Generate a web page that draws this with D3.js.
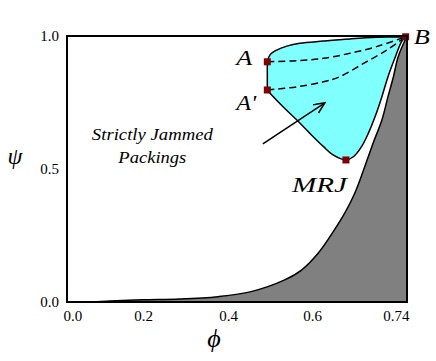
<!DOCTYPE html>
<html>
<head>
<meta charset="utf-8">
<script src="https://cdnjs.cloudflare.com/ajax/libs/d3/7.8.5/d3.min.js"></script>
<style>
body {margin:0; background:white;}
</style>
</head>
<body>
<svg></svg>
<script>

var screen = {width:436,height:361}
var margins = {top:36,right:29,left:67,bottom:59}
var serif = "'Liberation Serif', 'Times New Roman', serif"

var xTicks = [0, 0.2, 0.4, 0.6, 0.74]
var xTickLabels = ["0.0","0.2","0.4","0.6","0.74"]
var yTicks = [0, 0.5, 1]
var yTickLabels = ["0.0","0.5","1.0"]

// lower (gray) boundary, phi / psi
var mrjCurve = [
    [0.061,0],[0.113,0.004],[0.2,0.008],[0.287,0.011],[0.376,0.02],[0.455,0.039],
    [0.535,0.083],[0.575,0.12],[0.609,0.183],[0.633,0.271],[0.648,0.333],[0.663,0.409],
    [0.676,0.496],[0.69,0.597],[0.703,0.684],[0.712,0.772],[0.72,0.847],[0.727,0.922],
    [0.74,1.0]
]

// strictly jammed region: top edge A -> B, then B -> MRJ -> A'
var jammedTop = [
    [0.4936,0.903],[0.5,0.929],[0.516,0.947],[0.54,0.962],[0.571,0.973],
    [0.617,0.981],[0.656,0.989],[0.695,0.995],[0.738,0.997]
]
var jammedBottom = [
    [0.738,0.997],[0.732,0.979],[0.722,0.916],[0.712,0.847],[0.703,0.772],
    [0.693,0.697],[0.683,0.634],[0.673,0.584],[0.661,0.546],[0.65,0.534],
    [0.631,0.553],[0.617,0.584],[0.595,0.634],[0.564,0.684],[0.531,0.734],
    [0.504,0.778],[0.4936,0.797]
]

var dashA = [[0.4936,0.903],[0.564,0.907],[0.617,0.916],[0.656,0.935],[0.695,0.96],[0.738,0.997]]
var dashAprime = [[0.4936,0.797],[0.564,0.809],[0.617,0.828],[0.641,0.847],[0.676,0.897],[0.71,0.947],[0.738,0.997]]

var pointNames = ["A","A'","B","MRJ"]
var pointPhi = [0.4936, 0.4936, 0.738, 0.65]
var pointPsi = [0.903, 0.797, 0.997, 0.534]

var noteLines = ["Strictly Jammed","Packings"]
var arrowFrom = [0.483, 0.594]
var arrowTo = [0.619, 0.749]


var setup = function()
{
    var width = screen.width - margins.left - margins.right;
    var height = screen.height - margins.top - margins.bottom;

    var svg = d3.select("svg")
      .attr("width",screen.width)
      .attr("height",screen.height)

    svg.append("defs").append("marker")
      .attr("id","head")
      .attr("markerUnits","userSpaceOnUse")
      .attr("markerWidth",14)
      .attr("markerHeight",14)
      .attr("refX",11)
      .attr("refY",5)
      .attr("orient","auto")
      .append("path")
      .attr("d","M0,0 L11,5 L0,10")
      .attr("fill","none")
      .attr("stroke","black")
      .attr("stroke-width",1.5)

    var graph = svg.append("g")
      .attr("id","graph")
      .attr("transform","translate("+margins.left+","+margins.top+")");

    // the labels on the original are not evenly spaced, so the scale follows them
    var xScale = d3.scaleLinear()
                   .domain(xTicks)
                   .range([0,76,161,245,width])
    var yScale = d3.scaleLinear()
                   .domain([0,1])
                   .range([height,0])

    drawRegions(graph, xScale, yScale, height)
    drawPoints(graph, xScale, yScale)

    graph.append("rect")
      .attr("width",width)
      .attr("height",height)
      .attr("fill","none")
      .attr("stroke","black")
      .attr("stroke-width",2)

    var xAxis = d3.axisBottom(xScale)
                  .tickValues(xTicks)
                  .tickSize(0)
                  .tickPadding(8)
                  .tickFormat(function(d,i){return xTickLabels[i]})
    var yAxis = d3.axisLeft(yScale)
                  .tickValues(yTicks)
                  .tickSize(0)
                  .tickPadding(8)
                  .tickFormat(function(d,i){return yTickLabels[i]})

    var xg = graph.append("g")
      .attr("id","xAxis")
      .attr("transform","translate(0,"+height+")")
      .call(xAxis)
    var yg = graph.append("g")
      .attr("id","yAxis")
      .call(yAxis)

    svg.selectAll(".domain").remove()
    svg.selectAll(".tick text")
      .style("font-family",serif)
      .style("font-size","15px")
      .attr("fill","black")

    xg.selectAll(".tick text")
      .attr("text-anchor",function(d,i){
          if (i == 0) {return "start"}
          if (i == xTicks.length-1) {return "end"}
          return "middle"
      })
      .attr("dx",function(d,i){
          if (i == 0) {return -4}
          if (i == xTicks.length-1) {return 2}
          return 0
      })

    svg.append("text")
      .attr("x",15)
      .attr("y",164)
      .attr("text-anchor","middle")
      .style("font-family",serif)
      .style("font-style","italic")
      .style("font-size","24px")
      .text("\u03c8")

    svg.append("text")
      .attr("x",214)
      .attr("y",347)
      .attr("text-anchor","middle")
      .style("font-family",serif)
      .style("font-style","italic")
      .style("font-size","26px")
      .text("\u03d5")
}


var drawRegions = function(graph, xScale, yScale, height)
{
    var area = d3.area()
        .x(function(d){return xScale(d[0])})
        .y0(height)
        .y1(function(d){return yScale(d[1])})
        .curve(d3.curveCatmullRom.alpha(0.5))

    var line = d3.line()
        .x(function(d){return xScale(d[0])})
        .y(function(d){return yScale(d[1])})
        .curve(d3.curveCatmullRom.alpha(0.5))

    graph.append("path")
      .attr("d",area(mrjCurve))
      .attr("fill","#808080")

    graph.append("path")
      .attr("d",line(mrjCurve))
      .attr("fill","none")
      .attr("stroke","black")
      .attr("stroke-width",1.5)

    var outline = line(jammedTop) + line(jammedBottom).replace(/^M/,"L") + "Z"

    graph.append("path")
      .attr("d",outline)
      .attr("fill","#80ffff")
      .attr("stroke","black")
      .attr("stroke-width",1.5)
      .attr("stroke-linejoin","round")

    graph.selectAll(".dash")
      .data([dashA, dashAprime])
      .enter()
      .append("path")
      .classed("dash",true)
      .attr("d",function(d){return line(d)})
      .attr("fill","none")
      .attr("stroke","black")
      .attr("stroke-width",1.5)
      .attr("stroke-dasharray","7,4")

    graph.append("line")
      .attr("x1",xScale(arrowFrom[0]))
      .attr("y1",yScale(arrowFrom[1]))
      .attr("x2",xScale(arrowTo[0]))
      .attr("y2",yScale(arrowTo[1]))
      .attr("stroke","black")
      .attr("stroke-width",1.5)
      .attr("marker-end","url(#head)")

    var note = graph.append("text")
      .style("font-family",serif)
      .style("font-style","italic")
      .style("font-size","16px")
      .attr("text-anchor","middle")
    note.selectAll("tspan")
      .data(noteLines)
      .enter()
      .append("tspan")
      .attr("x",xScale(0.222))
      .attr("y",function(d,i){return yScale(0.609) + i*23})
      .attr("textLength",function(d,i){return i == 0 ? 121 : 68})
      .attr("lengthAdjust","spacingAndGlyphs")
      .text(function(d){return d})
}


var drawPoints = function(graph, xScale, yScale)
{
    var look = {
        "A":   {dx:-31, dy:3,  size:20, len:16},
        "A'":  {dx:-31, dy:20, size:20, len:20},
        "B":   {dx:8,   dy:7,  size:21, len:16},
        "MRJ": {dx:-54, dy:32, size:22, len:55}
    }

    graph.selectAll(".pt")
      .data(pointNames)
      .enter()
      .append("rect")
      .classed("pt",true)
      .attr("x",function(d,i){return xScale(pointPhi[i]) - 3.5})
      .attr("y",function(d,i){return yScale(pointPsi[i]) - 3.5})
      .attr("width",7)
      .attr("height",7)
      .attr("fill","#800000")

    graph.selectAll(".ptlabel")
      .data(pointNames)
      .enter()
      .append("text")
      .classed("ptlabel",true)
      .attr("x",function(d,i){return xScale(pointPhi[i]) + look[d].dx})
      .attr("y",function(d,i){return yScale(pointPsi[i]) + look[d].dy})
      .style("font-family",serif)
      .style("font-style","italic")
      .style("font-size",function(d){return look[d].size + "px"})
      .attr("textLength",function(d){return look[d].len})
      .attr("lengthAdjust","spacingAndGlyphs")
      .text(function(d){return d})
}

setup()

</script>
</body>
</html>
